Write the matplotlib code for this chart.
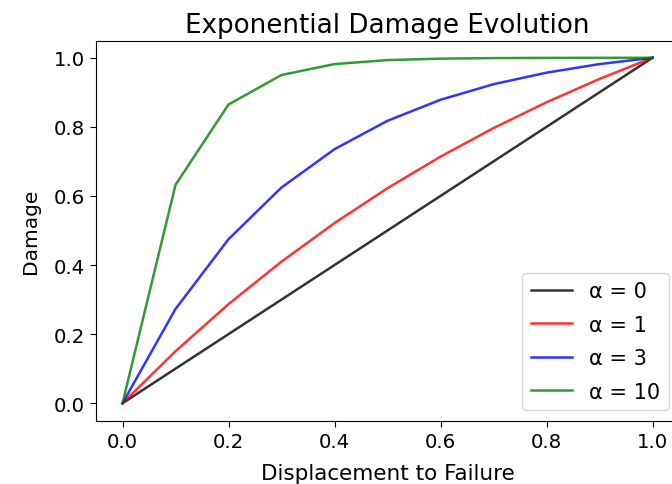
import matplotlib
matplotlib.use("Agg")
import matplotlib.pyplot as plt

# Displacement normalised by failure displacement
displacement = [0.0, 0.1, 0.2, 0.3, 0.4, 0.5, 0.6, 0.7, 0.8, 0.9, 1.0]

# Damage for each exponential softening parameter alpha
damage_a0 = [0.0, 0.1, 0.2, 0.3, 0.4, 0.5, 0.6, 0.7, 0.8, 0.9, 1.0]
damage_a1 = [0.0, 0.1505, 0.2868, 0.4100, 0.5215, 0.6225, 0.7138, 0.7964, 0.8711, 0.9388, 1.0]
damage_a3 = [0.0, 0.2728, 0.4748, 0.6245, 0.7354, 0.8176, 0.8784, 0.9235, 0.9569, 0.9817, 1.0]
damage_a10 = [0.0, 0.6321, 0.8647, 0.9502, 0.9817, 0.9933, 0.9975, 0.9991, 0.9997, 0.9999, 1.0]

series = [
    ("α = 0", damage_a0, "k"),
    ("α = 1", damage_a1, "r"),
    ("α = 3", damage_a3, "b"),
    ("α = 10", damage_a10, "g"),
]

fig = plt.figure(figsize=(6.72, 4.85), dpi=100)
W, H = 672, 485
ax = fig.add_axes([96 / W, 1 - 421.5 / H, 583 / W, 380 / H])

for label, values, color in series:
    ax.plot(displacement, values, color=color, alpha=0.8, lw=1.8, label=label)

ax.set_title("Exponential Damage Evolution", fontsize=18.8)
ax.set_xlabel("Displacement to Failure", fontsize=15.5, labelpad=9)
ax.set_ylabel("Damage", fontsize=14.5, labelpad=10)
ax.tick_params(labelsize=14.2, length=4.5)
ax.legend(loc="lower right", fontsize=15, labelspacing=0.65)

fig.savefig("out.png", dpi=100)
